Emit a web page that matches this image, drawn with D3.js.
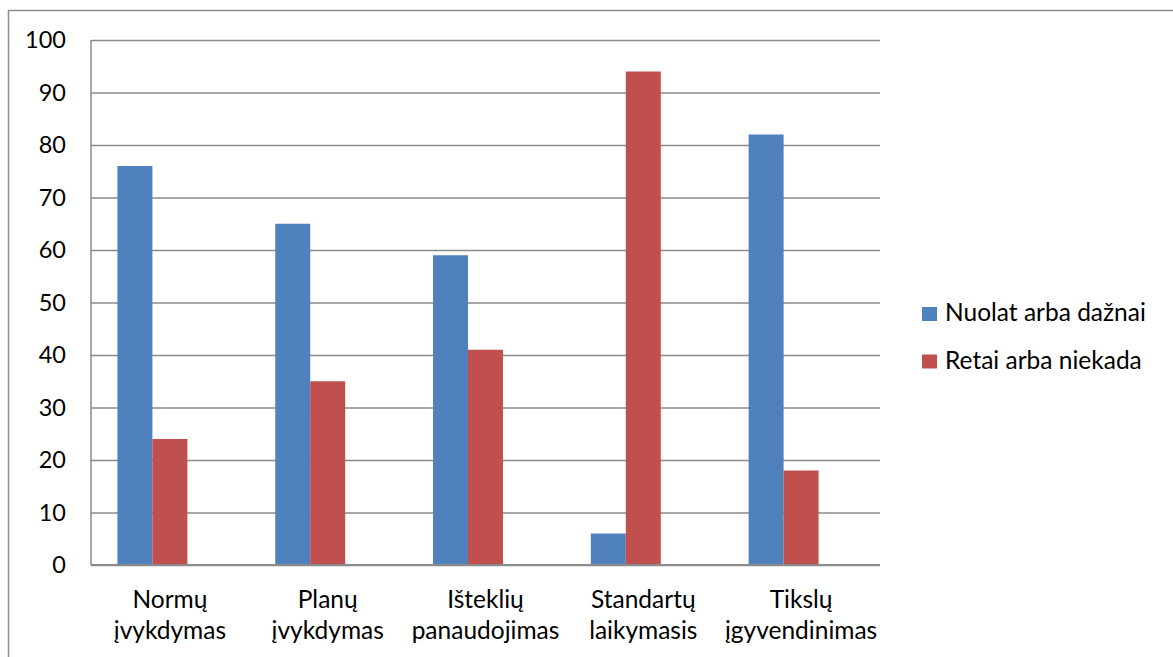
<!DOCTYPE html>
<html>
<head>
<meta charset="utf-8">
<script src="https://cdn.jsdelivr.net/npm/d3@7"></script>
<style>
  html, body { margin: 0; padding: 0; background: #fff; }
  svg { display: block; }
  text { font-family: Lato, "Open Sans", sans-serif; fill: #000; }
</style>
</head>
<body>
<svg id="chart" width="1173" height="657"></svg>
<script>
// Category labels (two lines each)
const categories = [
  ["Normų", "įvykdymas"],
  ["Planų", "įvykdymas"],
  ["Išteklių", "panaudojimas"],
  ["Standartų", "laikymasis"],
  ["Tikslų", "įgyvendinimas"]
];
const seriesNames = ["Nuolat arba dažnai", "Retai arba niekada"];
const frequentValues = [76, 65, 59, 6, 82];
const rareValues = [24, 35, 41, 94, 18];
const yTicks = [0, 10, 20, 30, 40, 50, 60, 70, 80, 90, 100];
const colors = ["#4F81BD", "#C0504D"];

const series = [frequentValues, rareValues];

const svg = d3.select("#chart");
const margin = { left: 91, right: 293, top: 40, bottom: 92 };
const W = 1173, H = 657;
const FS = 24.5;

// outer frame
svg.append("rect")
  .attr("x", 8.5).attr("y", 10.5)
  .attr("width", W + 20).attr("height", H + 20)
  .attr("fill", "none").attr("stroke", "#8e8e8e").attr("stroke-width", 1.5);

const y = d3.scaleLinear().domain([0, 100]).range([H - margin.bottom, margin.top]);
const x0 = d3.scaleBand()
  .domain(d3.range(categories.length))
  .range([margin.left, W - margin.right])
  .paddingInner(0.335).paddingOuter(0.1675);
// three slots per group; the third slot stays empty
const x1 = d3.scaleBand().domain([0, 1, 2]).range([0, x0.bandwidth()]);

// gridlines
const yAxis = d3.axisLeft(y).tickValues(yTicks)
  .tickSize(-(W - margin.right - margin.left)).tickPadding(25);
const gy = svg.append("g").attr("transform", `translate(${margin.left},0)`).call(yAxis);
gy.select(".domain").remove();
gy.selectAll(".tick line").attr("stroke", "#8a8a8a").attr("stroke-width", 1.3);
gy.selectAll(".tick text").attr("font-size", 23.5).style("font-family", "Lato, sans-serif").attr("fill", "#000");

// left axis line
svg.append("line")
  .attr("x1", margin.left).attr("x2", margin.left)
  .attr("y1", y(100)).attr("y2", y(0))
  .attr("stroke", "#8a8a8a").attr("stroke-width", 1.5);

// bars
series.forEach((vals, si) => {
  svg.append("g").selectAll("rect").data(vals).join("rect")
    .attr("x", (d, i) => x0(i) + x1(si))
    .attr("y", d => y(d))
    .attr("width", x1.bandwidth())
    .attr("height", d => y(0) - y(d))
    .attr("fill", colors[si]);
});

// bottom axis line
svg.append("line")
  .attr("x1", margin.left).attr("x2", W - margin.right)
  .attr("y1", y(0)).attr("y2", y(0))
  .attr("stroke", "#8a8a8a").attr("stroke-width", 2);

// category labels
const lab = svg.append("g").selectAll("text").data(categories).join("text")
  .attr("text-anchor", "middle")
  .attr("font-size", FS)
  .attr("x", (d, i) => x0(i) + x0.bandwidth() / 2);
lab.selectAll("tspan").data(d => d).join("tspan")
  .attr("x", function () { return d3.select(this.parentNode).attr("x"); })
  .attr("y", (d, j) => 608 + j * 31)
  .text(d => d);

// legend
const leg = svg.append("g").selectAll("g").data(seriesNames).join("g")
  .attr("transform", (d, i) => `translate(922,${307 + i * 47.5})`);
leg.append("rect").attr("width", 15).attr("height", 14).attr("fill", (d, i) => colors[i]);
leg.append("text").attr("x", 23).attr("y", 14).attr("font-size", FS).text(d => d);
</script>
</body>
</html>
